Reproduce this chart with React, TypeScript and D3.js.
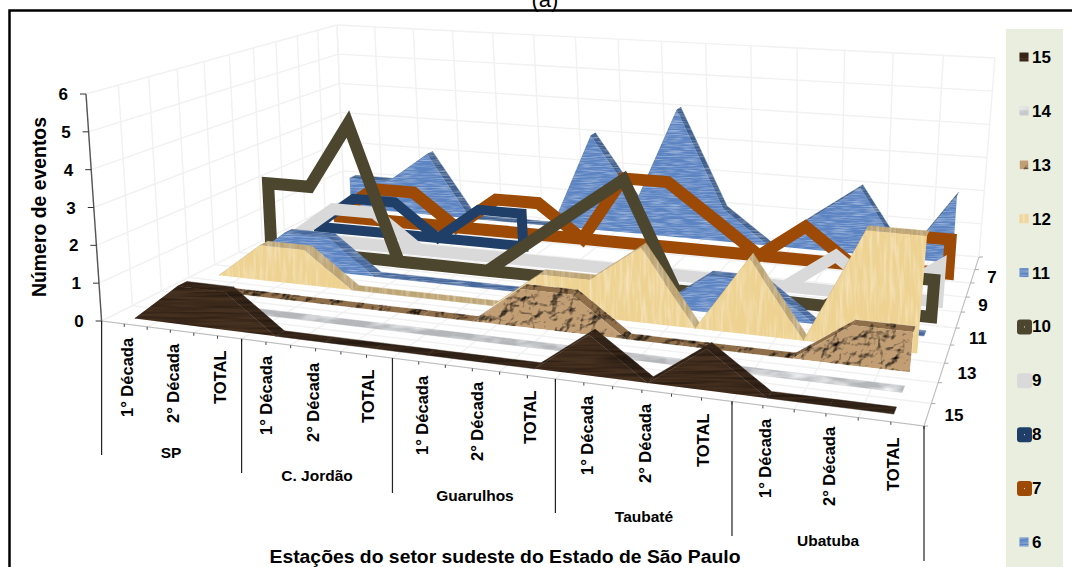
import React from "react";
import * as d3 from "d3";

const stations = ["SP", "C. Jordão", "Guarulhos", "Taubaté", "Ubatuba"];
const periods = ["1° Década", "2° Década", "TOTAL"];
const yTicks = [0, 1, 2, 3, 4, 5, 6];
const zTicks = ["7", "9", "11", "13", "15"];

const s6 = [1, 1, 2, 0, 0, 0, 3, 1, 4, 1, 0, 1, 2, 0, 2];
const s7 = [0, 1, 1, 0, 1, 1, 0, 2, 2, 1, 0, 1, 0, 1, 1];
const s8 = [0, 1, 1, 0, 1, 1];
const s9 = [0, 1, 1, 0, 0, 0, 0, 0, 0, 0, 0, 0, 1, 0, 1];
const s10 = [2, 2, 4, 0, 0, 0, 1, 2, 3, 0, 0, 0, 0, 1, 1];
const s11 = [0, 1, 1, 0, 0, 0, 0, 0, 0, 0, 1, 1, 0, 0, 0];
const s12 = [0, 1, 1, 0, 0, 0, 0, 1, 1, 2, 0, 2, 0, 3, 3];
const s13 = [0, 0, 0, 0, 0, 0, 0, 1, 1, 0, 0, 0, 0, 1, 1];
const s14 = [0, 0, 0, 0, 0, 0, 0, 0, 0, 0, 0, 0, 0, 0, 0];
const s15 = [0, 1, 1, 0, 0, 0, 0, 0, 0, 1, 0, 1, 0, 0, 0];

type P = [number, number];
function homography(p00: P, p10: P, p11: P, p01: P) {
  const [x0, y0] = p00, [x1, y1] = p10, [x2, y2] = p11, [x3, y3] = p01;
  const dx1 = x1 - x2, dx2 = x3 - x2, sx = x0 - x1 + x2 - x3;
  const dy1 = y1 - y2, dy2 = y3 - y2, sy = y0 - y1 + y2 - y3;
  const den = dx1 * dy2 - dx2 * dy1;
  const g = (sx * dy2 - dx2 * sy) / den, h = (dx1 * sy - sx * dy1) / den;
  const a = x1 - x0 + g * x1, b = x3 - x0 + h * x3;
  const d = y1 - y0 + g * y1, e = y3 - y0 + h * y3;
  return (u: number, v: number): P => {
    const w = g * u + h * v + 1;
    return [(a * u + b * v + x0) / w, (d * u + e * v + y0) / w];
  };
}
const floorH = homography([101.6, 321], [924, 426], [979, 257], [344, 200]);
const topH = homography([86, 94], [952, 165], [995, 58], [337, 25]);
const yScale = d3.scaleLinear().domain([0, 6]).range([0, 1]);
const uCat = d3.scaleLinear().domain([-0.5, 14.5]).range([0, 1]);
const vSer = d3.scaleLinear().domain([5.5, 15.5]).range([1, 0]);
function proj(u: number, v: number, val: number): P {
  const f = floorH(u, v), t = topH(u, v), k = yScale(val);
  const warp = 8 * v * Math.sin(Math.PI * u);
  return [f[0] + (t[0] - f[0]) * k + warp, f[1] + (t[1] - f[1]) * k];
}
const line = d3.line<P>();
const path = (pts: P[], close = false) => line(pts) + (close ? "Z" : "");

const DEPTH = 0.016;

function areaParts(vals: number[], ser: number) {
  const v = vSer(ser);
  const front = vals.map((d, i) => proj(uCat(i), v - DEPTH, d));
  const back = vals.map((d, i) => proj(uCat(i), v + DEPTH, d));
  const base = vals.map((_, i) => proj(uCat(i), v - DEPTH, 0));
  const quads = d3.range(vals.length - 1).map((i) => path([front[i], front[i + 1], back[i + 1], back[i]], true));
  const face = path([...front, ...base.slice().reverse()], true);
  return { quads, face };
}
function outline(vals: number[], ser: number) {
  const v = vSer(ser);
  const tops = vals.map((d, i) => proj(uCat(i), v, d));
  const base = vals.map((_, i) => proj(uCat(i), v, 0));
  return path([...tops, ...base.slice().reverse()], true);
}

const areaSeries: Record<number, { vals: number[]; face: string; edge: string; f: string }> = {
  6: { vals: s6, face: "#5c84c2", edge: "#3f5f8e", f: "tBlue" },
  11: { vals: s11, face: "#5c84c2", edge: "#46689c", f: "tBlue" },
  12: { vals: s12, face: "#eed291", edge: "#bda473", f: "tTan" },
  13: { vals: s13, face: "#c29e74", edge: "#8f6e4a", f: "tRock" },
  14: { vals: s14, face: "#c6c8cc", edge: "#b4b6ba", f: "tMarble" },
  15: { vals: s15, face: "#46301f", edge: "#3a281b", f: "tWood" },
};
const lineSeries: Record<number, { vals: number[]; color: string; w: number }> = {
  7: { vals: s7, color: "#9c4a05", w: 12 },
  8: { vals: s8, color: "#1f3f68", w: 10 },
  9: { vals: s9, color: "#d9d9d9", w: 12 },
  10: { vals: s10, color: "#4d462f", w: 12 },
};
const order = [6, 7, 8, 9, 10, 11, 12, 13, 14, 15];
const legendOrder = [15, 14, 13, 12, 11, 10, 9, 8, 7, 6];
const legendY = d3.scaleLinear().domain([0, 9]).range([57, 542]);

const labelBottoms = [417, 423, 404, 435, 442, 423, 455, 461, 444, 475, 483, 467, 498, 506, 491];
const labelX = [127, 173, 220, 266, 313, 368, 422, 477, 530, 587, 645, 703, 765, 829, 893];
const sepBottoms = [455, 473, 493, 513, 536, 561];
const stationPos: [number, number][] = [[171, 458], [317, 481], [475, 501], [644, 522], [828, 546]];
const zLabelPos: [number, number][] = [[992, 283], [983, 311], [978, 344], [967, 379], [954, 421]];

const tex = (id: string, freq: string, oct: number, seed: number, matrix: string) => (
  <filter id={id} filterUnits="userSpaceOnUse" x={0} y={0} width={1072} height={567} colorInterpolationFilters="sRGB">
    <feTurbulence type="fractalNoise" baseFrequency={freq} numOctaves={oct} seed={seed} result="n" />
    <feColorMatrix in="n" type="matrix" values={matrix} result="c" />
    <feComposite in="c" in2="SourceAlpha" operator="in" result="t" />
    <feMerge>
      <feMergeNode in="SourceGraphic" />
      <feMergeNode in="t" />
    </feMerge>
  </filter>
);
const white = (g: number, o: number) => `0 0 0 0 1 0 0 0 0 1 0 0 0 0 1 ${g} 0 0 0 ${o}`;
const black = (g: number, o: number) => `0 0 0 0 0 0 0 0 0 0 0 0 0 0 0 ${g} 0 0 0 ${o}`;

const FONT = "'Liberation Sans', Arial, sans-serif";

export default function App() {
  const grid = "#f1f1f1";
  const wallY = yTicks.slice(1);
  const catB = d3.range(0, 16).map((i) => i / 15);
  const serB = d3.range(0, 11).map((i) => i / 10);
  return (
    <svg width={1072} height={567} style={{ position: "absolute", left: 0, top: 0, background: "#fff" }} fontFamily={FONT} fontWeight="bold" fill="#000">
      <defs>
        {tex("tBlue", "0.06 0.8", 2, 4, white(0.9, -0.36))}
        {tex("tTan", "0.3 0.03", 2, 7, white(0.9, -0.38))}
        {tex("tWood", "0.015 0.4", 2, 9, black(0.9, -0.33))}
        {tex("tMarble", "0.03 0.1", 3, 5, white(2, -0.8))}
        <filter id="tRock" filterUnits="userSpaceOnUse" x={0} y={0} width={1072} height={567} colorInterpolationFilters="sRGB">
          <feTurbulence type="fractalNoise" baseFrequency="0.055" numOctaves={4} seed={11} result="n" />
          <feDiffuseLighting in="n" surfaceScale={7} diffuseConstant={1.3} lightingColor="#ffffff" result="l">
            <feDistantLight azimuth={235} elevation={55} />
          </feDiffuseLighting>
          <feBlend in="SourceGraphic" in2="l" mode="multiply" result="b" />
          <feComposite in="b" in2="SourceAlpha" operator="in" />
        </filter>
      </defs>

      {/* walls and floor grid */}
      <g stroke={grid} strokeWidth={1.4} fill="none">
        {wallY.map((y) => (
          <path key={"bw" + y} d={path([proj(0, 1, y), proj(1, 1, y)])} />
        ))}
        {wallY.map((y) => (
          <path key={"lw" + y} d={path([proj(0, 0, y), proj(0, 1, y)])} />
        ))}
        {catB.map((u) => (
          <path key={"bv" + u} d={path([proj(u, 0, 0), proj(u, 1, 0), proj(u, 1, 6)])} />
        ))}
        {serB.map((v) => (
          <path key={"lv" + v} d={path([proj(1, v, 0), proj(0, v, 0), proj(0, v, 6)])} />
        ))}
      </g>

      {/* axes */}
      <path d={path([proj(0, 0, 0), proj(0, 0, 6)])} stroke="#555" strokeWidth={1.4} fill="none" />
      {yTicks.map((y) => {
        const p = proj(0, 0, y);
        return (
          <g key={y}>
            <path d={path([[p[0] - 6, p[1]], p])} stroke="#333" strokeWidth={1} />
            <text x={p[0] - 18} y={p[1] + 6} fontSize={17} textAnchor="end">{y}</text>
          </g>
        );
      })}
      <path d={path([proj(0, 0, 0), proj(1, 0, 0), proj(1, 1, 0)])} stroke="#bbb" strokeWidth={1} fill="none" />
      {d3.range(0, 31).map((i) => {
        const p = proj(i / 30, 0, 0);
        return <path key={i} d={path([p, [p[0], p[1] + 3]])} stroke="#444" strokeWidth={1} />;
      })}
      {serB.map((v) => {
        const p = proj(1, v, 0);
        return <path key={v} d={path([p, [p[0] + 4, p[1]]])} stroke="#aaa" strokeWidth={1} />;
      })}
      {d3.range(0, 6).map((i) => {
        const p = proj(i / 5, 0, 0);
        return <path key={i} d={path([p, [p[0], sepBottoms[i]]])} stroke="#222" strokeWidth={1.2} />;
      })}

      {/* series back to front */}
      {order.map((ser) => {
        if (lineSeries[ser]) {
          const l = lineSeries[ser];
          return (
            <path key={ser} d={outline(l.vals, ser)} fill="none" stroke={l.color} strokeWidth={l.w} strokeLinejoin="miter" strokeMiterlimit={2.5} />
          );
        }
        const a = areaSeries[ser];
        const parts = areaParts(a.vals, ser);
        return (
          <g key={ser} filter={`url(#${a.f})`}>
            {parts.quads.map((q, i) => (
              <path key={i} d={q} fill={a.edge} stroke={a.edge} strokeWidth={0.4} />
            ))}
            <path d={parts.face} fill={a.face} />
          </g>
        );
      })}

      {/* category labels */}
      {labelX.map((x, i) => (
        <text key={i} transform={`translate(${x + 6},${labelBottoms[i]}) rotate(-90)`} fontSize={16.5}>
          {periods[i % 3]}
        </text>
      ))}
      {stations.map((s, i) => (
        <text key={s} x={stationPos[i][0]} y={stationPos[i][1]} fontSize={15.5} textAnchor="middle">{s}</text>
      ))}
      {zTicks.map((t, i) => (
        <text key={t} x={zLabelPos[i][0]} y={zLabelPos[i][1]} fontSize={17} textAnchor="middle">{t}</text>
      ))}

      <text transform="translate(46,207) rotate(-90)" fontSize={20} textAnchor="middle" textLength={180} lengthAdjust="spacingAndGlyphs">Número de eventos</text>
      <text x={505} y={563} fontSize={18} textAnchor="middle" textLength={471} lengthAdjust="spacingAndGlyphs">Estações do setor sudeste do Estado de São Paulo</text>
      <text x={545} y={7} fontSize={22} fontWeight="normal" textAnchor="middle">(a)</text>

      {/* frame */}
      <path d="M9.5,567V10.5H1072" fill="none" stroke="#000" strokeWidth={2.5} />

      {/* legend */}
      <rect x={1006} y={29} width={57} height={538} fill="#e9eedf" />
      {legendOrder.map((ser, i) => {
        const y = legendY(i);
        const l = lineSeries[ser];
        return (
          <g key={ser}>
            {l ? (
              <g>
                <rect x={1017} y={y - 7} width={15} height={15} rx={3} fill={l.color} />
                <rect x={1024} y={y} width={1} height={1} fill="#e0e0e0" />
              </g>
            ) : (
              <g filter={`url(#${areaSeries[ser].f})`}>
                <rect x={1019.5} y={y - 4.5} width={9} height={9} fill={areaSeries[ser].face} />
              </g>
            )}
            <text x={1032} y={y + 6} fontSize={17}>{ser}</text>
          </g>
        );
      })}
    </svg>
  );
}
